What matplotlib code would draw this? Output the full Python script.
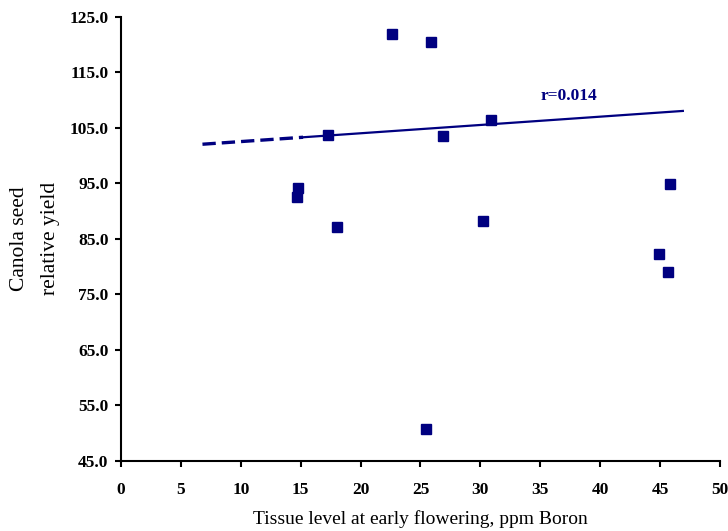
import matplotlib.pyplot as plt
import numpy as np

# tissue boron (ppm) vs canola seed relative yield
boron = [22.6, 25.9, 17.3, 26.9, 30.9, 14.8, 14.7, 18.0, 30.2, 45.8, 44.9, 45.7, 25.5]
rel_yield = [121.9, 120.4, 103.7, 103.5, 106.4, 94.1, 92.5, 87.1, 88.1, 94.9, 82.2, 79.0, 50.7]

# regression line: intercept, slope; dashed part extrapolated below the data
fit_coef = [101.0, 0.1496]
dash_range = [6.8, 15.2]
solid_range = [15.2, 46.9]
r_text = "r=0.014"

navy = '#000080'
plt.rcParams['font.family'] = ['Liberation Serif', 'DejaVu Serif']

fig = plt.figure(figsize=(7.28, 5.31), dpi=100)
ax = fig.add_axes([0.1662, 0.1324, 0.8228, 0.8362])

ax.plot(boron, rel_yield, 's', color=navy, markersize=7, linestyle='none', zorder=3)

xd = np.array(dash_range)
ax.plot(xd, fit_coef[0] + fit_coef[1] * xd, color=navy, lw=2.4, ls=(0, (4, 1.8)))
xs = np.array(solid_range)
ax.plot(xs, fit_coef[0] + fit_coef[1] * xs, color=navy, lw=1.6)

ax.text(37.4, 110.7, r_text, color=navy, fontsize=12.5, fontweight='bold',
        ha='center', va='center')

ax.set_xlim(0, 50)
ax.set_ylim(45, 125)
ax.set_xticks(np.arange(0, 51, 5))
ax.set_yticks(np.arange(45, 126, 10))
ax.set_yticklabels(['%.1f' % v for v in np.arange(45, 126, 10)])
for lab in ax.get_xticklabels() + ax.get_yticklabels():
    lab.set_fontweight('bold')
ax.tick_params(labelsize=12.5, width=1.5, length=4, direction='out')
ax.tick_params(axis='x', pad=11)
ax.tick_params(axis='y', pad=5)

for s in ['top', 'right']:
    ax.spines[s].set_visible(False)
for s in ['left', 'bottom']:
    ax.spines[s].set_linewidth(1.5)

ax.set_xlabel('Tissue level at early flowering, ppm Boron', fontsize=14, labelpad=9)
ax.set_ylabel('Canola seed\nrelative yield', fontsize=15.5, labelpad=7, linespacing=1.8)

plt.savefig('out.png', dpi=100)
